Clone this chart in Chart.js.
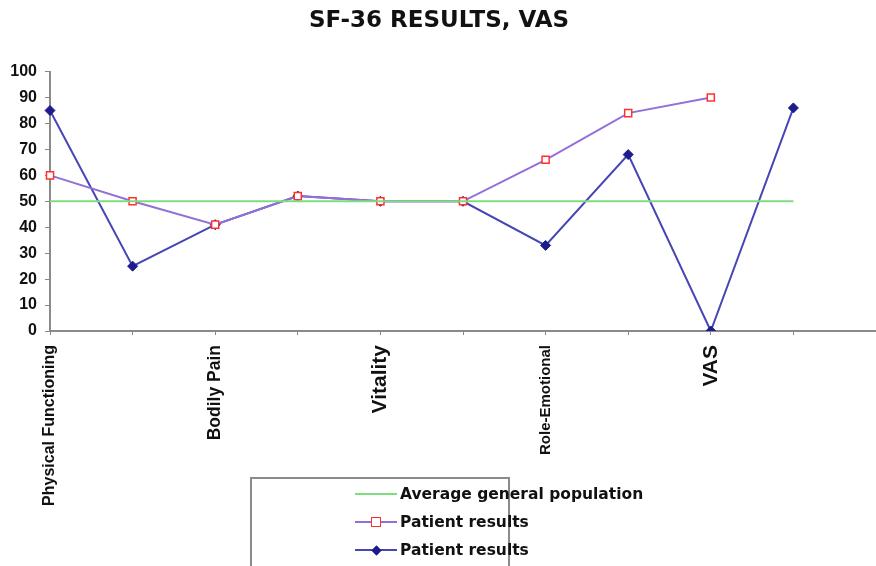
<!DOCTYPE html>
<html>
<head>
<meta charset="utf-8">
<script src="https://cdn.jsdelivr.net/npm/chart.js@4.4.1/dist/chart.umd.min.js"></script>
<style>
  html, body { margin: 0; padding: 0; background: #fff; }
  #wrap { position: relative; width: 876px; height: 566px; overflow: hidden; }
  #legend {
    position: absolute; left: 250px; top: 477px; width: 256px; height: 100px;
    border: 2px solid #8a8a8a; background: #fff;
    font: bold 15.5px "DejaVu Sans", Verdana, sans-serif; color: #111;
  }
  #legend .item { position: absolute; left: 103px; height: 18px; display: flex; align-items: center; white-space: nowrap; }
  #legend .sample { position: relative; width: 42px; height: 16px; margin-right: 3px; flex: none; }
  #legend .sample .ln { position: absolute; left: 0; right: 0; top: 7px; height: 0; border-top: 2px solid; }
  #legend .sample .mk { position: absolute; left: 50%; top: 50%; box-sizing: border-box; }
</style>
</head>
<body>
<div id="wrap">
  <canvas id="chart" width="876" height="566"></canvas>
  <div id="legend"></div>
</div>
<script>
// categories (every other one is labelled on the axis, like the original)
const categories = ['Physical Functioning', 'Role-Physical', 'Bodily Pain', 'General Health',
  'Vitality', 'Social Functioning', 'Role-Emotional', 'Mental Health', 'VAS', 'VAS 2', ''];
const shownLabels = ['Physical Functioning', 'Bodily Pain', 'Vitality', 'Role-Emotional', 'VAS'];
const labelSizes = [16, 0, 17.5, 0, 21, 0, 15, 0, 21, 0, 0];

const averagePopulation = [50, 50, 50, 50, 50, 50, 50, 50, 50, 50];
const patientA = [60, 50, 41, 52, 50, 50, 66, 84, 90];
const patientB = [85, 25, 41, 52, 50, 50, 33, 68, 0, 86];

const yTicks = [0, 10, 20, 30, 40, 50, 60, 70, 80, 90, 100];

const legendPlugin = {
  id: 'boxLegend',
  afterUpdate(chart) {
    const box = document.getElementById('legend');
    box.innerHTML = '';
    chart.data.datasets.forEach((ds, i) => {
      const item = document.createElement('div');
      item.className = 'item';
      item.style.top = (6 + i * 28) + 'px';
      const sample = document.createElement('span');
      sample.className = 'sample';
      const ln = document.createElement('span');
      ln.className = 'ln';
      ln.style.borderColor = ds.borderColor;
      sample.appendChild(ln);
      if (ds.pointRadius > 0) {
        const mk = document.createElement('span');
        mk.className = 'mk';
        const s = ds.pointStyle === 'rectRot' ? 7 : 10;
        mk.style.width = s + 'px';
        mk.style.height = s + 'px';
        mk.style.marginLeft = (-s / 2) + 'px';
        mk.style.marginTop = (-s / 2) + 'px';
        mk.style.background = ds.pointBackgroundColor;
        mk.style.border = '1.5px solid ' + ds.pointBorderColor;
        if (ds.pointStyle === 'rectRot') mk.style.transform = 'rotate(45deg)';
        sample.appendChild(mk);
      }
      item.appendChild(sample);
      const txt = document.createElement('span');
      txt.textContent = ds.label;
      item.appendChild(txt);
      box.appendChild(item);
    });
  }
};

new Chart(document.getElementById('chart'), {
  type: 'line',
  data: {
    labels: categories,
    datasets: [
      {
        label: 'Average general population',
        data: averagePopulation,
        borderColor: '#7fdc7f',
        borderWidth: 2,
        pointRadius: 0
      },
      {
        label: 'Patient results',
        data: patientA,
        borderColor: '#9370d8',
        borderWidth: 2,
        pointStyle: 'rect',
        pointRadius: 5,
        pointBackgroundColor: '#ffffff',
        pointBorderColor: '#ff3030',
        pointBorderWidth: 1.5
      },
      {
        label: 'Patient results',
        data: patientB,
        borderColor: '#4646b4',
        borderWidth: 2,
        pointStyle: 'rectRot',
        pointRadius: 5,
        pointBackgroundColor: '#1c1c8c',
        pointBorderColor: '#1c1c8c',
        pointBorderWidth: 1
      }
    ]
  },
  options: {
    responsive: false,
    animation: false,
    layout: { autoPadding: false, padding: { left: 0, top: 0, bottom: 0, right: -2 } },
    plugins: {
      legend: { display: false },
      tooltip: { enabled: false },
      title: {
        display: true,
        text: 'SF-36 RESULTS, VAS',
        color: '#111',
        font: { family: '"DejaVu Sans", Verdana, sans-serif', weight: 'bold', size: 23 },
        padding: { top: 7, bottom: 37 }
      }
    },
    scales: {
      x: {
        offset: false,
        grid: { drawOnChartArea: false, drawTicks: true, tickLength: 4, color: '#888' },
        border: { color: '#8a8a8a', width: 2 },
        afterFit: (scale) => {
          scale.height = 235;
          scale.paddingLeft = 0;
          scale.paddingRight = 0;
        },
        ticks: {
          autoSkip: false,
          maxRotation: 90,
          minRotation: 90,
          padding: 10,
          color: '#111',
          font: (ctx) => ({
            family: '"Liberation Sans", Arial, sans-serif',
            weight: 'bold',
            size: labelSizes[ctx.index] || 16
          }),
          callback: function (value) {
            const name = this.getLabelForValue(value);
            return shownLabels.includes(name) ? name : '';
          }
        }
      },
      y: {
        min: 0,
        max: 100,
        afterFit: (scale) => { scale.width = 50; },
        afterBuildTicks: (scale) => { scale.ticks = yTicks.map(v => ({ value: v })); },
        grid: { drawOnChartArea: false, drawTicks: true, tickLength: 5, color: '#888' },
        border: { color: '#8a8a8a', width: 2 },
        ticks: {
          color: '#111',
          font: { family: '"Liberation Sans", Arial, sans-serif', weight: 'bold', size: 16 },
          padding: 8
        }
      }
    }
  },
  plugins: [legendPlugin]
});
</script>
</body>
</html>
